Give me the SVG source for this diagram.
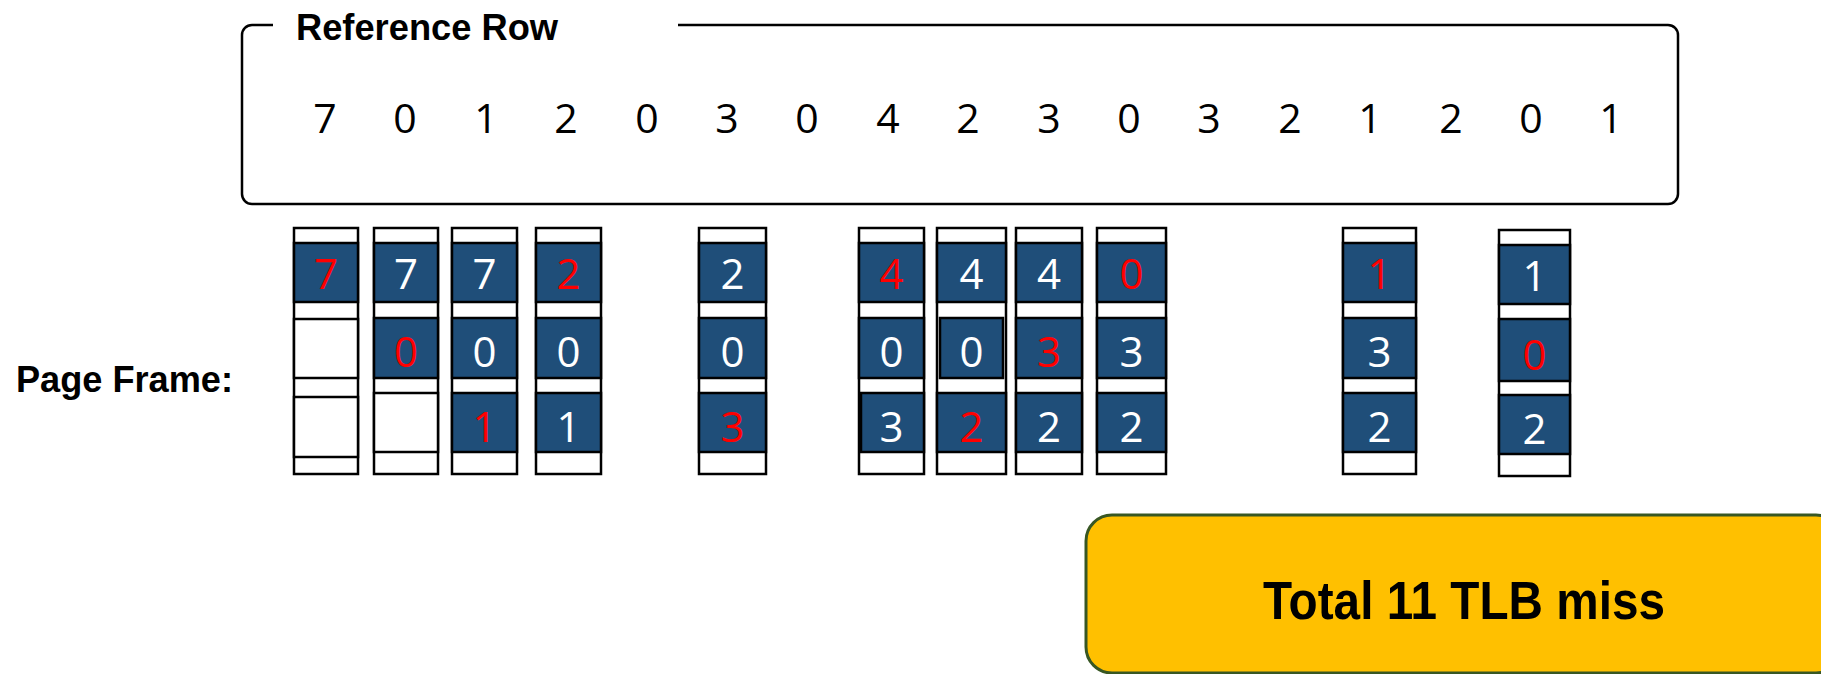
<svg xmlns="http://www.w3.org/2000/svg" width="1821" height="674" viewBox="0 0 1821 674">
<style>
.frame{fill:#fff;stroke:#000;stroke-width:2.5}
.pg{fill:#1F4E79;stroke:#000;stroke-width:2.5}
.emp{fill:#fff;stroke:#000;stroke-width:2.5}
.d{font-family:"Open Sans","Liberation Sans",sans-serif;font-size:42px;text-anchor:middle}
.w{fill:#fff}
.r{fill:#FF0000}
.ref{font-family:"Open Sans","Liberation Sans",sans-serif;font-size:41px;text-anchor:middle;fill:#000}
.lbl{font-family:"Liberation Sans",Arial,sans-serif;font-weight:bold;fill:#000}
</style>
<rect width="1821" height="674" fill="#fff"/>
<g id="reference-row">
<path d="M273 25 H252 A10 10 0 0 0 242 35 V194 A10 10 0 0 0 252 204 H1668 A10 10 0 0 0 1678 194 V35 A10 10 0 0 0 1668 25 H678" fill="none" stroke="#000" stroke-width="2.5"/>
<text class="lbl" x="296" y="40" font-size="36" textLength="262" lengthAdjust="spacingAndGlyphs">Reference Row</text>
<text class="ref" x="325" y="133">7</text>
<text class="ref" x="405" y="133">0</text>
<text class="ref" x="486" y="133">1</text>
<text class="ref" x="566" y="133">2</text>
<text class="ref" x="647" y="133">0</text>
<text class="ref" x="727" y="133">3</text>
<text class="ref" x="807" y="133">0</text>
<text class="ref" x="888" y="133">4</text>
<text class="ref" x="968" y="133">2</text>
<text class="ref" x="1049" y="133">3</text>
<text class="ref" x="1129" y="133">0</text>
<text class="ref" x="1209" y="133">3</text>
<text class="ref" x="1290" y="133">2</text>
<text class="ref" x="1370" y="133">1</text>
<text class="ref" x="1451" y="133">2</text>
<text class="ref" x="1531" y="133">0</text>
<text class="ref" x="1611" y="133">1</text>
</g>
<g id="page-frame-label">
<text class="lbl" x="16" y="392" font-size="37" textLength="217" lengthAdjust="spacingAndGlyphs">Page Frame:</text>
</g>
<g id="col1">
<rect class="frame" x="294" y="228" width="64" height="246"/>
<rect class="pg" x="294" y="243" width="64" height="59"/>
<rect class="emp" x="294" y="319" width="64" height="59"/>
<rect class="emp" x="294" y="397" width="64" height="60"/>
<text class="d r" x="326" y="289">7</text>
</g>
<g id="col2">
<rect class="frame" x="374" y="228" width="64" height="246"/>
<rect class="pg" x="374" y="243" width="64" height="59"/>
<rect class="pg" x="374" y="318" width="64" height="60"/>
<rect class="emp" x="374" y="393" width="64" height="59"/>
<text class="d w" x="406" y="289">7</text>
<text class="d r" x="406" y="367">0</text>
</g>
<g id="col3">
<rect class="frame" x="452" y="228" width="65" height="246"/>
<rect class="pg" x="452" y="243" width="65" height="59"/>
<rect class="pg" x="452" y="318" width="65" height="60"/>
<rect class="pg" x="452" y="393" width="65" height="59"/>
<text class="d w" x="484.5" y="289">7</text>
<text class="d w" x="484.5" y="367">0</text>
<text class="d r" x="484.5" y="442">1</text>
</g>
<g id="col4">
<rect class="frame" x="536" y="228" width="65" height="246"/>
<rect class="pg" x="536" y="243" width="65" height="59"/>
<rect class="pg" x="536" y="318" width="65" height="60"/>
<rect class="pg" x="536" y="393" width="65" height="59"/>
<text class="d r" x="568.5" y="289">2</text>
<text class="d w" x="568.5" y="367">0</text>
<text class="d w" x="568.5" y="442">1</text>
</g>
<g id="col5">
<rect class="frame" x="699" y="228" width="67" height="246"/>
<rect class="pg" x="699" y="243" width="67" height="59"/>
<rect class="pg" x="699" y="318" width="67" height="60"/>
<rect class="pg" x="699" y="393" width="67" height="59"/>
<text class="d w" x="732.5" y="289">2</text>
<text class="d w" x="732.5" y="367">0</text>
<text class="d r" x="732.5" y="442">3</text>
</g>
<g id="col6">
<rect class="frame" x="859" y="228" width="65" height="246"/>
<rect class="pg" x="859" y="243" width="65" height="59"/>
<rect class="pg" x="859" y="318" width="65" height="60"/>
<rect class="pg" x="861" y="393" width="63" height="59"/>
<text class="d r" x="891.5" y="289">4</text>
<text class="d w" x="891.5" y="367">0</text>
<text class="d w" x="891.5" y="442">3</text>
</g>
<g id="col7">
<rect class="frame" x="937" y="228" width="69" height="246"/>
<rect class="pg" x="937" y="243" width="69" height="59"/>
<rect class="pg" x="940" y="318" width="63" height="60"/>
<rect class="pg" x="937" y="393" width="69" height="59"/>
<text class="d w" x="971.5" y="289">4</text>
<text class="d w" x="971.5" y="367">0</text>
<text class="d r" x="971.5" y="442">2</text>
</g>
<g id="col8">
<rect class="frame" x="1016" y="228" width="66" height="246"/>
<rect class="pg" x="1016" y="243" width="66" height="59"/>
<rect class="pg" x="1016" y="318" width="66" height="60"/>
<rect class="pg" x="1016" y="393" width="66" height="59"/>
<text class="d w" x="1049" y="289">4</text>
<text class="d r" x="1049" y="367">3</text>
<text class="d w" x="1049" y="442">2</text>
</g>
<g id="col9">
<rect class="frame" x="1097" y="228" width="69" height="246"/>
<rect class="pg" x="1097" y="243" width="69" height="59"/>
<rect class="pg" x="1097" y="318" width="69" height="60"/>
<rect class="pg" x="1097" y="393" width="69" height="59"/>
<text class="d r" x="1131.5" y="289">0</text>
<text class="d w" x="1131.5" y="367">3</text>
<text class="d w" x="1131.5" y="442">2</text>
</g>
<g id="col10">
<rect class="frame" x="1343" y="228" width="73" height="246"/>
<rect class="pg" x="1343" y="243" width="73" height="59"/>
<rect class="pg" x="1343" y="318" width="73" height="60"/>
<rect class="pg" x="1343" y="393" width="73" height="59"/>
<text class="d r" x="1379.5" y="289">1</text>
<text class="d w" x="1379.5" y="367">3</text>
<text class="d w" x="1379.5" y="442">2</text>
</g>
<g id="col11">
<rect class="frame" x="1499" y="230" width="71" height="246"/>
<rect class="pg" x="1499" y="245" width="71" height="59"/>
<rect class="pg" x="1499" y="319" width="71" height="62"/>
<rect class="pg" x="1499" y="395" width="71" height="59"/>
<text class="d w" x="1534.5" y="291">1</text>
<text class="d r" x="1534.5" y="370">0</text>
<text class="d w" x="1534.5" y="444">2</text>
</g>
<g id="connectors"></g>
<g id="total">
<rect x="1086" y="515" width="756" height="158" rx="26" ry="26" fill="#FFC000" stroke="#385723" stroke-width="3"/>
<text class="lbl" x="1263" y="619" font-size="54" textLength="402" lengthAdjust="spacingAndGlyphs">Total 11 TLB miss</text>
</g>
</svg>
